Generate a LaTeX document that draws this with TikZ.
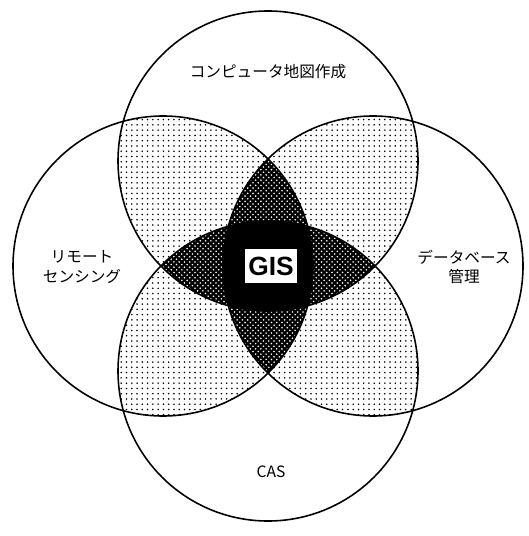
\documentclass[tikz,border=0pt]{standalone}
\usepackage{fontspec}
\newfontfamily\jpfont{Noto Sans CJK JP}
\newfontfamily\gisfont{Liberation Sans}
\usetikzlibrary{patterns}

\tikzset{
  ring/.style={line width=0.9pt},
  lightdots/.style={pattern=dots, pattern color=black},
  label/.style={font=\jpfont\fontsize{8.9}{11.3}\selectfont, align=center}
}

\begin{document}
\begin{tikzpicture}[x=0.02cm,y=-0.02cm]
    \useasboundingbox (0,0) rectangle (528,536);
    \def\rr{150}

    \coordinate (ct) at (268,161);
    \coordinate (cb) at (268,371);
    \coordinate (cl) at (163,266);
    \coordinate (cr) at (373,266);

    % two circles overlap
    \foreach \a/\b in {ct/cl,ct/cr,cb/cl,cb/cr,ct/cb,cl/cr} {
        \begin{scope}
            \clip (\a) circle[radius=\rr];
            \fill[lightdots] (\b) circle[radius=\rr];
        \end{scope}
    }

    % three circles overlap
    \foreach \a/\b/\c in {ct/cl/cr,ct/cl/cb,ct/cr/cb,cl/cr/cb} {
        \begin{scope}
            \clip (\a) circle[radius=\rr];
            \clip (\b) circle[radius=\rr];
            \fill[black] (\c) circle[radius=\rr];
            \fill[pattern=crosshatch dots, pattern color=white] (\c) circle[radius=\rr];
        \end{scope}
    }

    % all four
    \begin{scope}
        \clip (ct) circle[radius=\rr];
        \clip (cb) circle[radius=\rr];
        \clip (cl) circle[radius=\rr];
        \fill[black] (cr) circle[radius=\rr];
    \end{scope}

    \foreach \c in {ct,cb,cl,cr}
        \draw[ring] (\c) circle[radius=\rr];

    \node[label] (carto) at (268,72) {コンピュータ地図作成};
    \node[label] (remote) at (82,267) {リモート\\センシング};
    \node[label] (dbm) at (464,267) {データベース\\管理};
    \node[label] (cas) at (271,472) {CAS};

    \node[draw, fill=white, line width=1pt, minimum width=1.06cm, minimum height=0.72cm,
          inner sep=0pt, font=\gisfont\bfseries\fontsize{15}{15}\selectfont] (gis) at (271,266) {GIS};
\end{tikzpicture}
\end{document}
